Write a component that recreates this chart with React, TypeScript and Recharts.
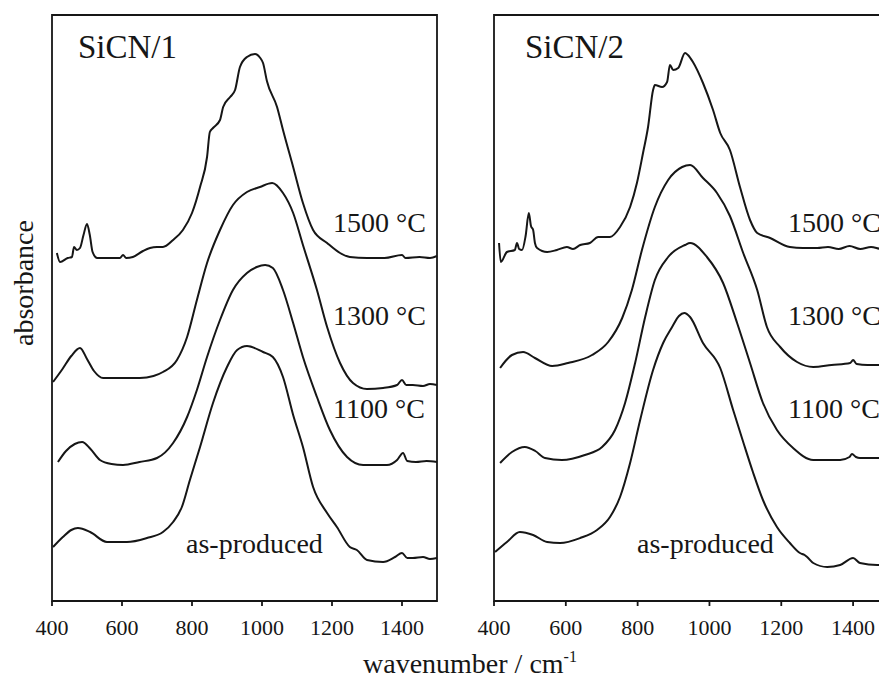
import React from "react";
import { LineChart, Line, XAxis, YAxis, ReferenceArea } from "recharts";

// wavenumber (cm-1), absorbance (arb. units, traces offset vertically)
const sicn1_1500: [number, number][] = [
  [414, 3.48], [423, 3.39], [445, 3.43], [457, 3.44], [463, 3.54], [471, 3.51], [480, 3.53],
  [490, 3.66], [500, 3.77], [508, 3.66], [516, 3.49], [529, 3.43], [560, 3.43], [594, 3.43],
  [603, 3.46], [612, 3.43], [631, 3.44], [660, 3.5], [680, 3.53], [700, 3.54], [717, 3.54],
  [746, 3.61], [774, 3.71], [800, 3.88], [823, 4.14], [843, 4.44], [851, 4.69], [860, 4.73],
  [880, 4.81], [889, 4.94], [909, 5.04], [923, 5.11], [937, 5.34], [957, 5.44], [980, 5.47],
  [995, 5.43], [1003, 5.38], [1014, 5.2], [1043, 4.94], [1060, 4.71], [1089, 4.34], [1117, 3.98],
  [1146, 3.71], [1186, 3.58], [1223, 3.48], [1251, 3.44], [1300, 3.43], [1350, 3.43], [1400, 3.46],
  [1410, 3.43], [1450, 3.44], [1480, 3.43], [1500, 3.45],
];
const sicn1_1300: [number, number][] = [
  [403, 2.19], [430, 2.32], [455, 2.45], [480, 2.53], [500, 2.42], [520, 2.3], [546, 2.23],
  [600, 2.23], [651, 2.23], [690, 2.25], [717, 2.29], [757, 2.41], [786, 2.64], [814, 3.01],
  [843, 3.38], [880, 3.71], [917, 3.96], [957, 4.09], [994, 4.14], [1029, 4.18], [1060, 4.08],
  [1089, 3.88], [1117, 3.56], [1157, 3.11], [1186, 2.74], [1223, 2.38], [1260, 2.18], [1300, 2.12],
  [1346, 2.13], [1386, 2.16], [1400, 2.21], [1412, 2.16], [1431, 2.16], [1460, 2.15], [1480, 2.17],
  [1500, 2.16],
];
const sicn1_1100: [number, number][] = [
  [417, 1.39], [440, 1.5], [465, 1.57], [486, 1.59], [510, 1.52], [537, 1.41], [570, 1.37],
  [603, 1.36], [650, 1.39], [700, 1.43], [746, 1.58], [786, 1.84], [814, 2.11], [843, 2.44],
  [880, 2.81], [917, 3.11], [957, 3.28], [985, 3.34], [1009, 3.36], [1031, 3.33], [1060, 3.11],
  [1089, 2.78], [1117, 2.44], [1157, 2.04], [1194, 1.71], [1243, 1.44], [1289, 1.36], [1357, 1.36],
  [1386, 1.41], [1403, 1.48], [1415, 1.4], [1440, 1.39], [1470, 1.4], [1500, 1.39],
];
const sicn1_asProduced: [number, number][] = [
  [403, 0.54], [431, 0.64], [455, 0.71], [474, 0.73], [509, 0.69], [557, 0.59], [614, 0.59],
  [671, 0.63], [717, 0.69], [746, 0.79], [771, 0.94], [794, 1.21], [823, 1.54], [860, 1.98],
  [900, 2.34], [929, 2.51], [957, 2.55], [1003, 2.49], [1031, 2.44], [1060, 2.24], [1089, 1.86],
  [1117, 1.54], [1146, 1.14], [1186, 0.88], [1214, 0.74], [1251, 0.54], [1271, 0.51], [1300, 0.41],
  [1346, 0.39], [1380, 0.44], [1400, 0.48], [1415, 0.43], [1431, 0.43], [1460, 0.44], [1480, 0.42],
  [1500, 0.43],
];

const sicn2_1500: [number, number][] = [
  [414, 3.58], [419, 3.39], [436, 3.49], [458, 3.51], [464, 3.58], [470, 3.52], [478, 3.51],
  [488, 3.65], [497, 3.88], [503, 3.75], [509, 3.71], [514, 3.58], [520, 3.53], [548, 3.49],
  [575, 3.51], [603, 3.54], [620, 3.52], [640, 3.56], [667, 3.58], [690, 3.64], [723, 3.64],
  [751, 3.74], [779, 3.94], [798, 4.18], [815, 4.48], [829, 4.74], [843, 5.11], [848, 5.16],
  [868, 5.14], [882, 5.19], [890, 5.36], [899, 5.31], [913, 5.33], [932, 5.48], [940, 5.46],
  [954, 5.39], [982, 5.18], [1010, 4.91], [1030, 4.68], [1057, 4.51], [1085, 4.14], [1113, 3.81],
  [1133, 3.68], [1169, 3.63], [1224, 3.54], [1260, 3.53], [1300, 3.53], [1330, 3.54], [1360, 3.52],
  [1390, 3.55], [1420, 3.52], [1450, 3.54], [1480, 3.52], [1500, 3.53],
];
const sicn2_1300: [number, number][] = [
  [417, 2.33], [450, 2.46], [481, 2.49], [514, 2.43], [562, 2.35], [606, 2.38], [673, 2.46],
  [718, 2.59], [757, 2.83], [784, 3.11], [812, 3.51], [848, 3.94], [885, 4.21], [924, 4.34],
  [946, 4.36], [982, 4.23], [1021, 4.08], [1057, 3.85], [1094, 3.48], [1133, 3.11], [1160, 2.74],
  [1197, 2.54], [1244, 2.39], [1289, 2.34], [1340, 2.36], [1392, 2.38], [1400, 2.41], [1410, 2.37],
  [1440, 2.36], [1475, 2.36], [1500, 2.36],
];
const sicn2_1100: [number, number][] = [
  [417, 1.38], [450, 1.49], [486, 1.54], [515, 1.5], [542, 1.43], [589, 1.41], [653, 1.46],
  [701, 1.54], [737, 1.71], [765, 1.98], [793, 2.38], [821, 2.84], [848, 3.21], [885, 3.44],
  [932, 3.56], [946, 3.58], [993, 3.44], [1038, 3.18], [1077, 2.78], [1113, 2.38], [1149, 1.98],
  [1188, 1.71], [1233, 1.53], [1289, 1.41], [1364, 1.41], [1390, 1.44], [1397, 1.47], [1408, 1.44],
  [1419, 1.43], [1472, 1.43], [1500, 1.43],
];
const sicn2_asProduced: [number, number][] = [
  [403, 0.49], [436, 0.59], [472, 0.69], [509, 0.66], [548, 0.59], [584, 0.58], [640, 0.63],
  [687, 0.71], [723, 0.84], [751, 1.04], [779, 1.38], [807, 1.81], [843, 2.31], [871, 2.58],
  [896, 2.74], [915, 2.85], [930, 2.88], [946, 2.84], [982, 2.58], [1030, 2.33], [1066, 1.91],
  [1094, 1.59], [1121, 1.29], [1149, 1.01], [1188, 0.74], [1224, 0.58], [1252, 0.48], [1265, 0.46],
  [1272, 0.44], [1289, 0.38], [1328, 0.34], [1364, 0.36], [1400, 0.43], [1419, 0.38], [1467, 0.36],
  [1500, 0.36],
];

const X_TICKS = [400, 600, 800, 1000, 1200, 1400];
const TEMPS = ["1500 °C", "1300 °C", "1100 °C"];

const INK = "#161616";
const FONT = "'Liberation Serif', 'Times New Roman', serif";
const Y_MAX = 5.86;

const toPts = (arr: [number, number][]) => arr.map(([w, a]) => ({ w, a }));

interface PanelProps {
  traces: [number, number][][];
  width: number;
  marginLeft: number;
  marginRight: number;
}

function Panel({ traces, width, marginLeft, marginRight }: PanelProps) {
  return (
    <LineChart
      width={width}
      height={677}
      margin={{ top: 15, left: marginLeft, right: marginRight, bottom: 36 }}
    >
      <XAxis
        type="number"
        dataKey="w"
        domain={[400, 1500]}
        ticks={X_TICKS}
        axisLine={false}
        tickSize={5}
        tickMargin={13}
        height={40}
        tickLine={{ stroke: INK, strokeWidth: 1.8 }}
        tick={{ fontSize: 22, fill: INK, fontFamily: FONT }}
      />
      <YAxis type="number" domain={[0, Y_MAX]} hide />
      <ReferenceArea
        x1={400}
        x2={1500}
        y1={0}
        y2={Y_MAX}
        fill="none"
        stroke={INK}
        strokeWidth={1.8}
      />
      {traces.map((t, i) => (
        <Line
          key={i}
          data={toPts(t)}
          dataKey="a"
          type="monotone"
          stroke={INK}
          strokeWidth={2}
          dot={false}
          isAnimationActive={false}
        />
      ))}
    </LineChart>
  );
}

export default function App() {
  const txt = { fontFamily: FONT, fill: INK } as const;
  return (
    <div
      style={{
        position: "absolute",
        left: 0,
        top: 0,
        width: 879,
        height: 677,
        overflow: "hidden",
        background: "#fff",
      }}
    >
      <div style={{ position: "absolute", left: 0, top: 0 }}>
        <Panel
          traces={[sicn1_1500, sicn1_1300, sicn1_1100, sicn1_asProduced]}
          width={445}
          marginLeft={52}
          marginRight={8}
        />
      </div>
      <div style={{ position: "absolute", left: 440, top: 0 }}>
        <Panel
          traces={[sicn2_1500, sicn2_1300, sicn2_1100, sicn2_asProduced]}
          width={460}
          marginLeft={54}
          marginRight={11}
        />
      </div>
      <svg
        width={879}
        height={677}
        style={{ position: "absolute", left: 0, top: 0, pointerEvents: "none" }}
      >
        <text x={78} y={58} fontSize={33} {...txt}>SiCN/1</text>
        <text x={525} y={58} fontSize={33} {...txt}>SiCN/2</text>
        {TEMPS.map((t, i) => (
          <text key={"l" + t} x={333} y={232 + i * 93} fontSize={28} {...txt}>{t}</text>
        ))}
        {TEMPS.map((t, i) => (
          <text key={"r" + t} x={788} y={232 + i * 93} fontSize={28} {...txt}>{t}</text>
        ))}
        <text x={186} y={553} fontSize={28} {...txt}>as-produced</text>
        <text x={637} y={553} fontSize={28} {...txt}>as-produced</text>
        <text
          x={33}
          y={283}
          fontSize={28}
          textAnchor="middle"
          transform="rotate(-90 33 283)"
          {...txt}
        >
          absorbance
        </text>
        <text x={363} y={673} fontSize={28} {...txt}>
          wavenumber / cm
          <tspan fontSize={16} dy={-11}>-1</tspan>
        </text>
      </svg>
    </div>
  );
}
